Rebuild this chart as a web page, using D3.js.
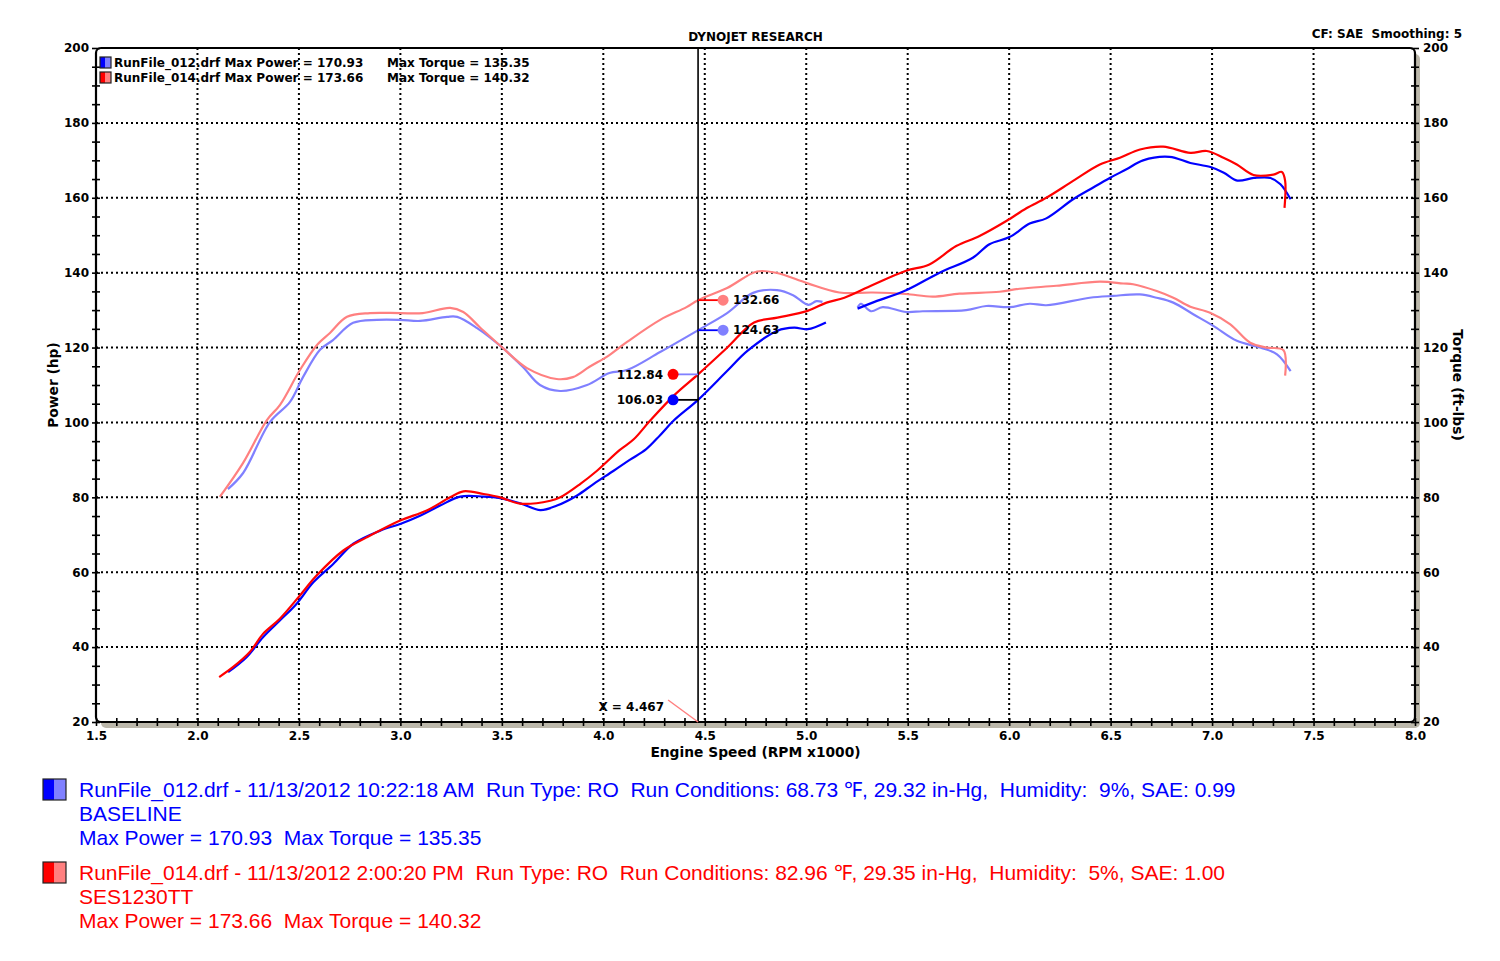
<!DOCTYPE html>
<html>
<head>
<meta charset="utf-8">
<script src="https://cdn.jsdelivr.net/npm/d3@7"></script>
<style>
  body { margin: 0; background: #fff; }
  svg text { font-family: "DejaVu Sans", Verdana, sans-serif; }
  svg text.info { font-family: "Liberation Sans", Arial, Helvetica, sans-serif; }
</style>
</head>
<body>
<div id="vis"></div>
<script>

////////////////////////////////////////
///////////////// Data /////////////////
////////////////////////////////////////

// [rpm x1000, value], null value = break in the trace
const run012Power = [
  [2.151, 33.3], [2.242, 37.3], [2.324, 42.7], [2.406, 47.1], [2.489, 51.6], [2.571, 57.3],
  [2.669, 62.2], [2.768, 67.6], [2.9, 71.1], [2.999, 72.9], [3.097, 75.1], [3.196, 77.8],
  [3.295, 80.2], [3.41, 80.2], [3.492, 79.8], [3.591, 78.4], [3.69, 76.6], [3.772, 77.8],
  [3.871, 80.5], [3.953, 83.6], [4.051, 87.1], [4.13, 90.0], [4.21, 92.8], [4.28, 96.6],
  [4.347, 100.5], [4.467, 106.03], [4.611, 113.8], [4.71, 119.1], [4.858, 124.5], [4.941, 125.3],
  [5.007, 124.9], [5.097, 126.7], [5.17, null],
  [5.253, 130.4], [5.327, 132.0], [5.492, 135.3], [5.657, 140.0], [5.821, 144.0], [5.903, 147.6],
  [6.002, 149.5], [6.101, 153.1], [6.183, 154.5], [6.315, 159.6], [6.397, 162.2], [6.496, 165.3],
  [6.578, 167.6], [6.66, 170.0], [6.79, 170.93], [6.893, 169.3], [6.992, 168.2], [7.058, 166.7],
  [7.124, 164.6], [7.206, 165.3], [7.288, 165.3], [7.337, 163.6], [7.387, 159.6]
];

const run014Power = [
  [2.107, 32.0], [2.176, 34.7], [2.258, 38.7], [2.324, 43.6], [2.406, 47.6], [2.505, 53.8],
  [2.587, 59.1], [2.719, 65.8], [2.834, 69.3], [2.999, 73.8], [3.13, 76.5], [3.245, 80.0],
  [3.311, 81.6], [3.41, 80.9], [3.492, 80.0], [3.59, 78.3], [3.739, 79.1], [3.788, 80.0],
  [3.887, 83.6], [3.969, 87.1], [4.08, 92.6], [4.15, 95.5], [4.231, 100.5], [4.35, 107.3],
  [4.467, 112.84], [4.611, 120.0], [4.743, 126.7], [4.858, 128.0], [5.007, 129.8], [5.1, 132.0],
  [5.188, 133.3], [5.327, 136.7], [5.492, 140.5], [5.607, 142.2], [5.739, 147.1], [5.854, 149.8],
  [5.986, 153.8], [6.085, 157.2], [6.183, 160.0], [6.315, 164.5], [6.447, 168.9], [6.546, 170.7],
  [6.645, 172.9], [6.759, 173.66], [6.893, 172.0], [6.974, 172.5], [7.056, 170.7], [7.122, 168.9],
  [7.204, 166.1], [7.302, 166.2], [7.344, 166.9], [7.36, 164.5], [7.357, 157.3]
];

const run012Torque = [
  [2.15, 82.2], [2.225, 86.5], [2.357, 100.1], [2.456, 105.5], [2.52, 112.1], [2.604, 119.4],
  [2.668, 122.0], [2.767, 126.6], [2.885, 127.4], [2.998, 127.4], [3.097, 127.1], [3.23, 128.2],
  [3.28, 128.2], [3.378, 125.2], [3.5, 120.1], [3.604, 114.8], [3.688, 110.0], [3.787, 108.4],
  [3.92, 110.0], [4.03, 113.2], [4.117, 114.0], [4.28, 118.8], [4.467, 124.63], [4.61, 129.2],
  [4.738, 134.6], [4.856, 135.35], [4.935, 134.0], [5.01, 131.4], [5.05, 132.4], [5.08, 132.2],
  [5.17, null],
  [5.253, 130.7], [5.27, 131.7], [5.32, 129.7], [5.377, 130.8], [5.492, 129.5], [5.574, 129.7],
  [5.788, 130.0], [5.887, 131.1], [6.002, 130.8], [6.101, 131.7], [6.183, 131.3], [6.397, 133.3],
  [6.512, 133.8], [6.644, 134.2], [6.727, 133.3], [6.809, 132.0], [6.907, 128.9], [7.006, 125.8],
  [7.122, 121.8], [7.237, 120.0], [7.32, 118.2], [7.387, 113.7]
];

const run014Torque = [
  [2.11, 80.1], [2.225, 89.2], [2.343, 100.7], [2.407, 104.7], [2.505, 114.0], [2.589, 120.7],
  [2.653, 123.9], [2.737, 128.2], [2.85, 129.2], [2.998, 129.2], [3.11, 129.2], [3.245, 130.6],
  [3.31, 129.5], [3.39, 125.5], [3.5, 120.1], [3.624, 114.5], [3.77, 111.6], [3.85, 112.1],
  [3.93, 114.8], [4.03, 118.0], [4.117, 121.5], [4.28, 127.4], [4.41, 130.8], [4.467, 132.66],
  [4.61, 135.9], [4.758, 140.32], [4.856, 139.9], [5.004, 137.2], [5.163, 134.7], [5.327, 134.7],
  [5.492, 134.3], [5.623, 133.6], [5.755, 134.4], [5.953, 134.9], [6.052, 135.7], [6.233, 136.5],
  [6.447, 137.6], [6.562, 137.1], [6.611, 136.9], [6.727, 135.1], [6.809, 133.3], [6.893, 130.9],
  [6.99, 129.3], [7.09, 126.2], [7.188, 121.3], [7.27, 120.0], [7.352, 119.3], [7.36, 112.5]
];

const cursorRpm = 4.467;
// values read at the cursor: 012 power, 014 power, 012 torque, 014 torque
const cursorValues = [106.03, 112.84, 124.63, 132.66];

const yTicks = d3.range(20, 201, 20);
const xTicks = d3.range(15, 81, 5).map(d => d / 10);

const runNames = ["RunFile_012.drf", "RunFile_014.drf"];
const maxPower = ["170.93", "173.66"];
const maxTorque = ["135.35", "140.32"];
const runStamps = ["11/13/2012 10:22:18 AM", "11/13/2012 2:00:20 PM"];
const runConditions = [
  "68.73 \u2109, 29.32 in-Hg,  Humidity:  9%, SAE: 0.99",
  "82.96 \u2109, 29.35 in-Hg,  Humidity:  5%, SAE: 1.00"
];
const runComments = ["BASELINE", "SES1230TT"];

////////////////////////////////////////
/////////////// Options ////////////////
////////////////////////////////////////

const options = {
  width: 1500,
  height: 961,
  margin: { top: 48, right: 85, bottom: 239, left: 96 },
  dark: ["#0000ff", "#ff0000"],
  light: ["#8080ff", "#ff8080"],
  shadow: "#bcb8ab",
  small: "12px",
  title: "13.8px"
};

////////////////////////////////////////
////////////// SVG Setup ///////////////
////////////////////////////////////////

const svg = d3.select("#vis").append("svg")
  .attr("width", options.width)
  .attr("height", options.height)
  .style("display", "block");

const x0 = options.margin.left;
const x1 = options.width - options.margin.right;
const y0 = options.margin.top;
const y1 = options.height - options.margin.bottom;

const x = d3.scaleLinear().domain([1.5, 8.0]).range([x0, x1]);
const y = d3.scaleLinear().domain([20, 200]).range([y1, y0]);

////////////////////////////////////////
//////////////// Frame /////////////////
////////////////////////////////////////

svg.append("rect")
  .attr("x", x0 + 5).attr("y", y0 + 6)
  .attr("width", x1 - x0).attr("height", y1 - y0)
  .attr("rx", 5)
  .attr("fill", options.shadow);

svg.append("rect")
  .attr("x", x0).attr("y", y0)
  .attr("width", x1 - x0).attr("height", y1 - y0)
  .attr("rx", 5)
  .attr("fill", "#fff")
  .attr("stroke", "#000")
  .attr("stroke-width", 2.2);

// dotted grid
svg.append("g")
  .selectAll("line")
  .data(xTicks.filter(d => d > 1.5 && d < 8))
  .join("line")
  .attr("x1", d => x(d)).attr("x2", d => x(d))
  .attr("y1", y0).attr("y2", y1)
  .attr("stroke", "#000").attr("stroke-width", 2)
  .attr("stroke-dasharray", "2,3");

svg.append("g")
  .selectAll("line")
  .data(yTicks.filter(d => d > 20 && d < 200))
  .join("line")
  .attr("x1", x0).attr("x2", x1)
  .attr("y1", d => y(d)).attr("y2", d => y(d))
  .attr("stroke", "#000").attr("stroke-width", 2)
  .attr("stroke-dasharray", "2,3");

////////////////////////////////////////
//////////////// Axes //////////////////
////////////////////////////////////////

function styleAxis(g, cross) {
  g.select(".domain").remove();
  g.attr("font-family", null).attr("font-size", null);
  g.selectAll(".tick line").attr("stroke", "#000").attr("stroke-width", 1.6);
  cross(g.selectAll(".tick line"));
  g.selectAll(".tick text")
    .attr("font-weight", "bold")
    .attr("font-size", options.small)
    .attr("fill", "#000");
}

const yLabel = d => d % 20 === 0 ? d : "";

svg.append("g")
  .attr("transform", `translate(${x0},0)`)
  .call(d3.axisLeft(y).tickValues(d3.range(20, 201, 5)).tickSize(4).tickPadding(3).tickFormat(yLabel))
  .call(g => styleAxis(g, l => l.attr("x2", -4).attr("x1", 4)));

svg.append("g")
  .attr("transform", `translate(${x1},0)`)
  .call(d3.axisRight(y).tickValues(d3.range(20, 201, 5)).tickSize(4).tickPadding(4).tickFormat(yLabel))
  .call(g => styleAxis(g, l => l.attr("x2", 4).attr("x1", -4)));

svg.append("g")
  .attr("transform", `translate(0,${y1})`)
  .call(d3.axisBottom(x).tickValues(d3.range(15, 81).map(d => d / 10)).tickSize(4).tickPadding(5)
    .tickFormat(d => Math.round(d * 10) % 5 === 0 ? d.toFixed(1) : ""))
  .call(g => styleAxis(g, l => l.attr("y2", 4).attr("y1", -4)));

// axis titles
svg.append("text")
  .attr("transform", `translate(58,${(y0 + y1) / 2}) rotate(-90)`)
  .attr("text-anchor", "middle")
  .attr("font-weight", "bold").attr("font-size", options.title)
  .text("Power (hp)");

svg.append("text")
  .attr("transform", `translate(1453,${(y0 + y1) / 2}) rotate(90)`)
  .attr("text-anchor", "middle")
  .attr("font-weight", "bold").attr("font-size", options.title)
  .text("Torque (ft-lbs)");

svg.append("text")
  .attr("x", (x0 + x1) / 2).attr("y", 757)
  .attr("text-anchor", "middle")
  .attr("font-weight", "bold").attr("font-size", options.title)
  .text("Engine Speed (RPM x1000)");

svg.append("text")
  .attr("x", (x0 + x1) / 2).attr("y", 41)
  .attr("text-anchor", "middle")
  .attr("font-weight", "bold").attr("font-size", options.small)
  .text("DYNOJET RESEARCH");

svg.append("text")
  .attr("x", 1462).attr("y", 38)
  .attr("text-anchor", "end")
  .attr("font-weight", "bold").attr("font-size", options.small)
  .style("white-space", "pre")
  .text("CF: SAE  Smoothing: 5");

////////////////////////////////////////
//////////////// Traces ////////////////
////////////////////////////////////////

const line = d3.line()
  .defined(d => d[1] != null)
  .x(d => x(d[0]))
  .y(d => y(d[1]))
  .curve(d3.curveCatmullRom.alpha(0.5));

const traces = [
  { data: run012Torque, color: options.light[0] },
  { data: run014Torque, color: options.light[1] },
  { data: run012Power, color: options.dark[0] },
  { data: run014Power, color: options.dark[1] }
];

svg.append("g")
  .selectAll("path")
  .data(traces)
  .join("path")
  .attr("d", d => line(d.data))
  .attr("fill", "none")
  .attr("stroke", d => d.color)
  .attr("stroke-width", 2.2)
  .attr("stroke-linejoin", "round");

////////////////////////////////////////
//////////////// Cursor ////////////////
////////////////////////////////////////

const cx = x(cursorRpm);

svg.append("line")
  .attr("x1", cx).attr("x2", cx)
  .attr("y1", y0).attr("y2", y1)
  .attr("stroke", "#000").attr("stroke-width", 1.6);

// readouts: power to the left of the cursor, torque to the right
const readouts = [
  { value: cursorValues[0], dx: -25, dot: options.dark[0], link: "#000" },
  { value: cursorValues[1], dx: -25, dot: options.dark[1], link: options.light[0] },
  { value: cursorValues[2], dx: 25, dot: options.light[0], link: options.dark[0] },
  { value: cursorValues[3], dx: 25, dot: options.light[1], link: options.dark[1] }
];

const ro = svg.append("g")
  .selectAll("g")
  .data(readouts)
  .join("g")
  .attr("transform", d => `translate(${cx},${y(d.value)})`);

ro.append("line")
  .attr("x1", 0).attr("x2", d => d.dx)
  .attr("stroke", d => d.link).attr("stroke-width", 1.8);

ro.append("circle")
  .attr("cx", d => d.dx)
  .attr("r", 5.5)
  .attr("fill", d => d.dot);

ro.append("text")
  .attr("x", d => d.dx < 0 ? d.dx - 10 : d.dx + 10)
  .attr("dy", "0.35em")
  .attr("text-anchor", d => d.dx < 0 ? "end" : "start")
  .attr("font-weight", "bold").attr("font-size", options.small)
  .text(d => d.value.toFixed(2));

svg.append("line")
  .attr("x1", cx - 30).attr("y1", y1 - 22)
  .attr("x2", cx).attr("y2", y1)
  .attr("stroke", options.light[1]).attr("stroke-width", 1.5);

svg.append("text")
  .attr("x", cx - 34).attr("y", y1 - 11)
  .attr("text-anchor", "end")
  .attr("font-weight", "bold").attr("font-size", options.small)
  .text(`X = ${cursorRpm.toFixed(3)}`);

////////////////////////////////////////
//////////////// Legends ///////////////
////////////////////////////////////////

function swatch(g, i, w, h) {
  g.append("rect").attr("width", w / 2).attr("height", h).attr("fill", options.dark[i]);
  g.append("rect").attr("x", w / 2).attr("width", w / 2).attr("height", h).attr("fill", options.light[i]);
  g.append("rect").attr("width", w).attr("height", h)
    .attr("fill", "none").attr("stroke", "#222").attr("stroke-width", 1.2);
}

// in-plot legend
const topLegend = svg.append("g")
  .selectAll("g")
  .data(runNames)
  .join("g")
  .attr("transform", (d, i) => `translate(100,${57 + i * 15})`);

topLegend.each(function (d, i) { swatch(d3.select(this), i, 11, 11); });

topLegend.append("text")
  .attr("x", 14).attr("y", 10)
  .attr("font-weight", "bold").attr("font-size", options.small)
  .text((d, i) => `${d} Max Power = ${maxPower[i]}`);

topLegend.append("text")
  .attr("x", 287).attr("y", 10)
  .attr("font-weight", "bold").attr("font-size", options.small)
  .text((d, i) => `Max Torque = ${maxTorque[i]}`);

// run information block
const info = svg.append("g")
  .selectAll("g")
  .data(runNames)
  .join("g")
  .attr("transform", (d, i) => `translate(43,${779 + i * 83})`);

info.each(function (d, i) { swatch(d3.select(this), i, 23, 21); });

info.each(function (d, i) {
  const rows = [
    `${d} - ${runStamps[i]}  Run Type: RO  Run Conditions: ${runConditions[i]}`,
    runComments[i],
    `Max Power = ${maxPower[i]}  Max Torque = ${maxTorque[i]}`
  ];
  d3.select(this).selectAll("text")
    .data(rows)
    .join("text")
    .attr("class", "info")
    .attr("x", 36)
    .attr("y", (r, j) => 18 + j * 24)
    .attr("font-size", "21px")
    .attr("fill", options.dark[i])
    .style("white-space", "pre")
    .text(r => r);
});

</script>
</body>
</html>
